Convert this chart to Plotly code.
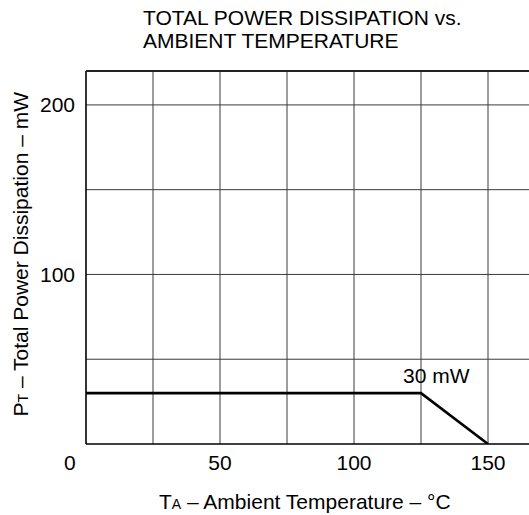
import plotly.graph_objects as go

temp_c = [0, 125, 150]
power_mw = [30, 30, 0]
x_tick_vals = [50, 100, 150]
y_tick_vals = [100, 200]
x_grid_vals = [25, 50, 75, 100, 125, 150]
y_grid_vals = [50, 100, 150, 200]
title_lines = ["TOTAL POWER DISSIPATION vs.", "AMBIENT TEMPERATURE"]

FONT = "Liberation Sans, Arial, sans-serif"
FS = 21
GRID = "#3a3a3a"

fig = go.Figure()
fig.add_trace(go.Scatter(x=temp_c, y=power_mw, mode="lines",
                         line=dict(color="black", width=2.6), showlegend=False,
                         cliponaxis=False, hoverinfo="skip"))

fig.update_layout(
    width=529, height=515,
    margin=dict(l=86, r=0, t=71, b=71),
    paper_bgcolor="white", plot_bgcolor="white",
    font=dict(family=FONT, size=FS, color="black"),
    xaxis=dict(range=[0, 165.3], tickvals=x_tick_vals, ticks="", showgrid=False,
               zeroline=False, showline=False, ticklabelstandoff=4,
               tickfont=dict(size=FS)),
    yaxis=dict(range=[0, 220], tickvals=y_tick_vals, ticks="", showgrid=False,
               zeroline=False, showline=False, ticklabelstandoff=10,
               tickfont=dict(size=FS)),
)
for xv in x_grid_vals:
    fig.add_shape(type="line", x0=xv, x1=xv, y0=0, y1=1, xref="x", yref="y domain",
                  line=dict(color=GRID, width=1), layer="below")
for yv in y_grid_vals:
    fig.add_shape(type="line", x0=0, x1=1, y0=yv, y1=yv, xref="x domain", yref="y",
                  line=dict(color=GRID, width=1), layer="below")
# border: left, bottom, top
fig.add_shape(type="line", x0=0, x1=0, y0=0, y1=1, xref="x domain", yref="y domain",
              line=dict(color="black", width=1.6))
fig.add_shape(type="line", x0=0, x1=1, y0=0, y1=0, xref="x domain", yref="y domain",
              line=dict(color="black", width=1.6))
fig.add_shape(type="line", x0=0, x1=1, y0=1, y1=1, xref="x domain", yref="y domain",
              line=dict(color="#222", width=2))

fig.add_annotation(x=0, y=0, xref="x", yref="y", text="0", showarrow=False,
                   xshift=-16, yshift=-18, font=dict(size=FS))
fig.add_annotation(x=130.8, y=40.6, xref="x", yref="y", text="30 mW", showarrow=False,
                   font=dict(size=FS))
for line_text, ys in zip(title_lines, [53.5, 30.5]):
    fig.add_annotation(x=(141 - 86) / 443, y=1, xref="paper", yref="paper",
                       text=line_text, showarrow=False, xanchor="left",
                       yanchor="middle", yshift=ys, font=dict(size=FS))
fig.add_annotation(x=(305 - 86) / 443, y=0, xref="paper", yref="paper",
                   text="T<span style='font-size:14px'>A</span> – Ambient Temperature – °C",
                   showarrow=False, yanchor="middle", yshift=-57,
                   font=dict(size=FS))
fig.add_annotation(x=0, y=0.5, xref="paper", yref="paper",
                   text="P<span style='font-size:14px'>T</span> – Total Power Dissipation – mW",
                   showarrow=False, textangle=-90, xanchor="center", yanchor="middle",
                   xshift=-66, yshift=3,
                   font=dict(size=FS))

fig.write_html("out.html", config={"displayModeBar": False, "staticPlot": True},
               post_script="document.body.style.margin='0';document.body.style.overflow='hidden';")
